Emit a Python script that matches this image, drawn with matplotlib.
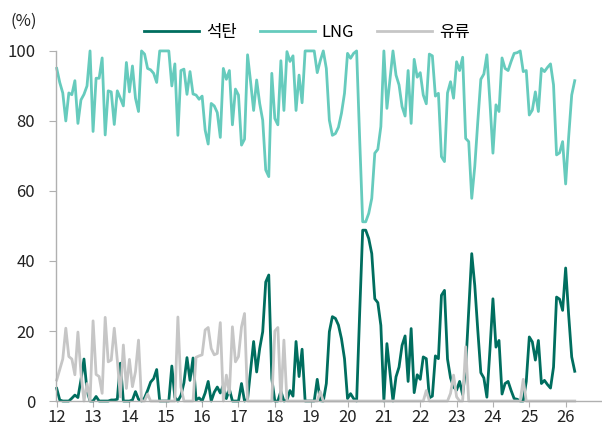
import numpy as np
import matplotlib
matplotlib.use('Agg')
import matplotlib.pyplot as plt

plt.rcParams['font.family'] = ['Noto Sans CJK KR', 'DejaVu Sans']

# monthly shares (%), Jan 2012 onwards
lng = [95, 91, 88, 80, 88, 87.5, 91.5, 79.3, 86, 87.6, 90, 100,
       77, 92.2, 92.2, 98, 76, 88.6, 88.3, 79, 88.6, 86.5, 84.3, 96.7,
       88.3, 95.7, 86.5, 82.7, 100, 99.1, 95, 94.6, 93.6, 91, 100, 100,
       100, 100, 90, 96.3, 75.9, 94.4, 94.8, 87.6, 94.1, 87.7, 87.4, 86.2,
       87.1, 77.4, 73.4, 85.0, 84.3, 82.4, 75.3, 95.0, 91.9, 94.4, 78.9, 89.1,
       87.4, 73.1, 74.8, 98.9, 91.2, 83.0, 91.7, 85.0, 80.2, 66.0, 64.1, 93.6,
       80.7, 78.9, 97.2, 83.0, 99.8, 97, 98.6, 83.0, 93.1, 85.2, 100, 100,
       100, 100, 93.8, 97.2, 100, 95.0, 80.2, 75.9, 76.4, 78.2, 82.2, 87.9,
       99.3, 97.9, 99.3, 100, 75, 51.2, 51.2, 53.6, 57.9, 70.8, 71.9, 78.4,
       100, 83.6, 91.7, 100, 93.1, 90.3, 84.1, 81.4, 94.4, 79.3, 97.6, 92.5,
       93.8, 87.4, 84.9, 99.1, 98.6, 87.1, 87.9, 69.8, 68.4, 88, 91.2, 86.5,
       96.9, 94.4, 98.2, 75.0, 74.1, 57.9, 67.0, 79.8, 91.9, 93.4, 98.9, 85.5,
       70.8, 84.6, 82.7, 98.0, 95.0, 94.4, 97, 99.3, 99.5, 100, 94.1, 94.4,
       81.7, 83.1, 88.3, 82.7, 95.0, 94.1, 95.3, 96.3, 90.3, 70.3, 70.9, 74.1,
       62.0, 75.5, 87.4, 91.5]

coal = [3.6, 0.3, 0, 0, 0, 0.8, 1.7, 1, 6, 12, 3, 0,
        0, 1.3, 0, 0, 0, 0, 0.3, 0.3, 0.5, 10.8, 0, 0,
        0, 0.3, 2.7, 0.5, 0, 0.9, 3, 5.4, 6.4, 9, 0, 0,
        0, 0, 10, 1, 0, 1.6, 5.2, 12.4, 5.9, 12.3, 0.3, 0.9,
        0, 2.3, 5.6, 0, 2.5, 4, 2.3, 4.5, 0.7, 3.4, 0, 0,
        0, 5, 0, 0.5, 8.8, 17, 8.3, 15, 19.8, 34, 36, 6.4,
        0, 0, 2.8, 0, 0.2, 3, 1.4, 17, 7, 14.8, 0, 0,
        0, 0, 6.2, 0.1, 0, 5, 19.8, 24.1, 23.6, 21.7, 17.8, 12.1,
        0.7, 2.1, 0.7, 0, 25, 48.8, 48.8, 46.4, 42.1, 29.2, 28.1, 21.6,
        0, 16.4, 8.3, 0, 6.9, 9.7, 15.9, 18.6, 5.6, 20.7, 2.4, 7.5,
        6.2, 12.6, 12.1, 0.9, 1.4, 12.9, 12.1, 30.2, 31.6, 12, 6.6, 4,
        3.1, 5.6, 1.8, 9.5, 25.9, 42.1, 33, 20.2, 8.1, 6.6, 1.1, 14.5,
        29.2, 15.4, 17.3, 2, 5, 5.6, 3, 0.7, 0.5, 0, 0, 5.6,
        18.3, 16.9, 11.7, 17.3, 5, 5.9, 4.7, 3.7, 9.7, 29.7, 29.1, 25.9,
        38, 24.5, 12.6, 8.5]

oil = [6, 9, 12, 20.8, 12.7, 12, 7.5, 19.7, 8, 0, 5, 0,
       22.9, 7.6, 7, 2.2, 23.9, 11.2, 11.7, 20.8, 11.7, 1.2, 16, 3.6,
       11.9, 4.1, 8.4, 17.4, 0, 0, 2, 0, 0, 0, 0, 0,
       0, 0, 0, 0, 24, 4, 0, 0, 0, 0, 12.5, 12.9,
       13.2, 20.3, 21, 15, 13.2, 13.6, 22.4, 0, 7.4, 2.2, 21.2, 11.2,
       12.7, 21.2, 25, 0, 0, 0, 0, 0, 0, 0, 0, 0,
       20, 21, 0, 17.4, 0, 0, 0, 0, 0, 0, 0, 0,
       0, 0, 0, 2.7, 0, 0, 0, 0, 0, 0, 0, 0,
       0, 0, 0, 0, 0, 0, 0, 0, 0, 0, 0, 0,
       0, 0, 0, 0, 0, 0, 0, 0, 0, 0, 0, 0,
       0, 0, 3, 0, 0, 0, 0, 0, 0, 0, 2.2, 7.4,
       1.2, 0, 0, 15.5, 0, 0, 0, 0, 0, 0, 0, 0,
       0, 0, 0, 0, 0, 0, 0, 0, 0, 0, 6.2, 0,
       0, 0, 0, 0, 0, 0, 0, 0, 0, 0, 0, 0,
       0, 0, 0, 0]

years = list(range(12, 27))
x = 12 + np.arange(len(lng)) / 12

fig = plt.figure(figsize=(6.02, 4.28), dpi=100)
ax = fig.add_axes([0.093, 0.063, 0.907, 0.818])

ax.plot(x, coal, color='#006e5f', lw=2.0, label='석탄', clip_on=False)
ax.plot(x, lng, color='#66cbbd', lw=2.0, label='LNG', clip_on=False)
ax.plot(x, oil, color='#c6c6c6', lw=2.0, label='유류', clip_on=False)

ax.set_xlim(11.98, 27.0)
ax.set_ylim(0, 100)
ax.set_xticks(years)
ax.set_yticks(range(0, 101, 20))
for s in ['top', 'right']:
    ax.spines[s].set_visible(False)
for s in ['left', 'bottom']:
    ax.spines[s].set_color('#b0b0b0')
    ax.spines[s].set_linewidth(1.0)
ax.tick_params(axis='y', length=5, pad=10, color='#b0b0b0', labelsize=12, labelcolor='#222222')
ax.tick_params(axis='x', length=4, pad=2, color='#b0b0b0', labelsize=12, labelcolor='#222222')

fig.text(0.017, 0.95, '(%)', fontsize=12, color='#222222', va='center')
fig.legend(loc='center', bbox_to_anchor=(0.51, 0.925), ncol=3, frameon=False,
           fontsize=12, handlelength=3.3, columnspacing=1.4, handletextpad=0.4)

fig.savefig('out.png', dpi=100)
